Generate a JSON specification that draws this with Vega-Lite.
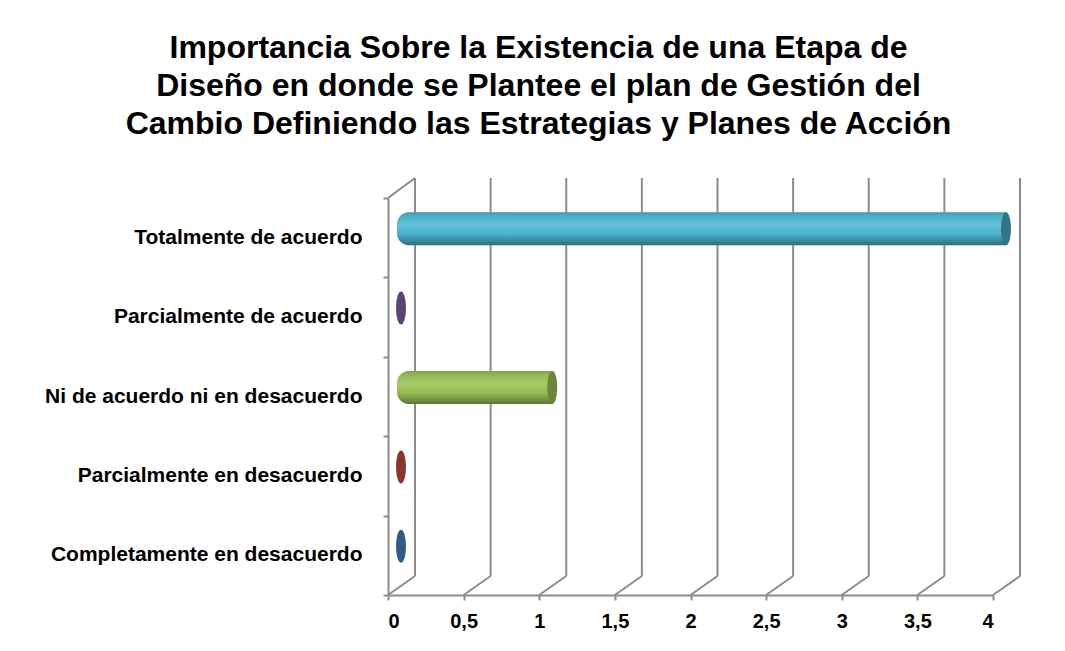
{
  "$schema": "https://vega.github.io/schema/vega-lite/v6.json",
  "autosize": "none",
  "width": 605,
  "height": 397,
  "padding": {"left": 388, "top": 198, "right": 72, "bottom": 56},
  "background": "white",
  "config": {
    "view": {"stroke": null},
    "font": "Arial",
    "axis": {"grid": false}
  },
  "title": {
    "text": [
      "Importancia Sobre la Existencia de una Etapa de",
      "Diseño en donde se Plantee el plan de Gestión del",
      "Cambio Definiendo las Estrategias y Planes de Acción"
    ],
    "frame": "group",
    "anchor": "middle",
    "dx": -152,
    "offset": 4,
    "baseline": "bottom",
    "font": "Arial",
    "fontSize": 32,
    "fontWeight": "bold",
    "lineHeight": 38,
    "color": "#000000"
  },
  "datasets": {
    "respuestas": [
      {"categoria": "Totalmente de acuerdo", "valor": 4},
      {"categoria": "Parcialmente de acuerdo", "valor": 0},
      {"categoria": "Ni de acuerdo ni en desacuerdo", "valor": 1},
      {"categoria": "Parcialmente en desacuerdo", "valor": 0},
      {"categoria": "Completamente en desacuerdo", "valor": 0}
    ],
    "marcas": [
      {"v": 0}, {"v": 0.5}, {"v": 1}, {"v": 1.5}, {"v": 2},
      {"v": 2.5}, {"v": 3}, {"v": 3.5}, {"v": 4}
    ]
  },
  "resolve": {"scale": {"y": "independent"}, "axis": {"y": "independent"}},
  "layer": [
    {
      "data": {"name": "marcas"},
      "layer": [
        {
          "mark": {"type": "rule", "color": "#8c8c8c", "strokeWidth": 2, "xOffset": 27, "x2Offset": 27, "yOffset": -20, "y2Offset": -19},
          "encoding": {
            "x": {"field": "v", "type": "quantitative", "title": null, "scale": {"domain": [0, 4], "nice": false, "zero": false}},
            "y": {
              "datum": 1, "type": "quantitative",
              "scale": {"domain": [0, 1], "nice": false},
              "axis": {
                "orient": "left", "title": null, "values": [0, 0.2, 0.4, 0.6, 0.8, 1],
                "labels": false, "tickSize": 5, "tickWidth": 2, "tickColor": "#8c8c8c",
                "domain": true, "domainColor": "#8c8c8c", "domainWidth": 2, "grid": false
              }
            },
            "y2": {"datum": 0}
          }
        },
        {
          "mark": {"type": "rule", "color": "#8c8c8c", "strokeWidth": 2, "x2Offset": 27, "y2Offset": -19},
          "encoding": {
            "x": {"field": "v", "type": "quantitative", "title": null},
            "x2": {"field": "v"},
            "y": {"datum": 0, "type": "quantitative"},
            "y2": {"datum": 0}
          }
        },
        {
          "transform": [{"filter": "datum.v == 0"}],
          "mark": {"type": "rule", "color": "#8c8c8c", "strokeWidth": 2, "x2Offset": 27, "y2Offset": -20},
          "encoding": {
            "x": {"field": "v", "type": "quantitative", "title": null},
            "x2": {"field": "v"},
            "y": {"datum": 1, "type": "quantitative"},
            "y2": {"datum": 1}
          }
        }
      ]
    },
    {
      "data": {"name": "respuestas"},
      "encoding": {
        "y": {
          "field": "categoria", "type": "nominal",
          "sort": [
            "Totalmente de acuerdo",
            "Parcialmente de acuerdo",
            "Ni de acuerdo ni en desacuerdo",
            "Parcialmente en desacuerdo",
            "Completamente en desacuerdo"
          ],
          "scale": {"paddingInner": 0, "paddingOuter": 0},
          "axis": {
            "orient": "left", "title": null, "ticks": false, "domain": false,
            "labelFont": "Arial", "labelFontSize": 21, "labelFontWeight": "bold",
            "labelColor": "#000000", "labelPadding": 26, "labelLimit": 400
          }
        }
      },
      "layer": [
        {
          "transform": [{"filter": "datum.valor > 0"}],
          "mark": {"type": "bar", "height": 33, "xOffset": 13, "x2Offset": 9, "yOffset": -9, "cornerRadiusTopLeft": 12, "cornerRadiusBottomLeft": 12},
          "encoding": {
            "x": {
              "field": "valor", "type": "quantitative", "title": null,
              "scale": {"domain": [0, 4], "nice": false, "zero": false},
              "axis": {
                "orient": "bottom", "title": null, "values": [0, 0.5, 1, 1.5, 2, 2.5, 3, 3.5, 4],
                "labelExpr": "replace(format(datum.value, '~g'), '.', ',')",
                "labelFont": "Arial", "labelFontSize": 20, "labelFontWeight": "bold", "labelColor": "#000000",
                "labelPadding": 11, "tickSize": 5, "tickWidth": 2, "tickColor": "#8c8c8c",
                "domainColor": "#8c8c8c", "domainWidth": 2, "grid": false
              }
            },
            "x2": {"datum": 0},
            "color": {
              "field": "categoria", "type": "nominal", "legend": null,
              "scale": {
                "domain": ["Totalmente de acuerdo", "Parcialmente de acuerdo", "Ni de acuerdo ni en desacuerdo", "Parcialmente en desacuerdo", "Completamente en desacuerdo"],
                "range": ["#4fbcd8", "#8064a2", "#a0c65c", "#c0504d", "#4f81bd"]
              }
            }
          }
        },
        {
          "transform": [{"filter": "datum.valor > 0"}],
          "mark": {
            "type": "bar", "height": 33, "xOffset": 13, "x2Offset": 9, "yOffset": -9,
            "cornerRadiusTopLeft": 12, "cornerRadiusBottomLeft": 12,
            "fill": {
              "gradient": "linear", "x1": 0, "y1": 0, "x2": 0, "y2": 1,
              "stops": [
                {"offset": 0, "color": "rgba(120,120,120,0.45)"},
                {"offset": 0.05, "color": "rgba(0,0,0,0.12)"},
                {"offset": 0.4, "color": "rgba(255,255,255,0.1)"},
                {"offset": 0.65, "color": "rgba(0,0,0,0.05)"},
                {"offset": 0.9, "color": "rgba(0,0,0,0.3)"},
                {"offset": 1, "color": "rgba(0,0,0,0.42)"}
              ]
            }
          },
          "encoding": {
            "x": {"field": "valor", "type": "quantitative", "title": null},
            "x2": {"datum": 0}
          }
        },
        {
          "mark": {
            "type": "point", "filled": true, "opacity": 1, "size": 1089,
            "shape": "M0,-1 A0.3,1 0 1,1 0,1 A0.3,1 0 1,1 0,-1 Z",
            "xOffset": 13, "yOffset": -9
          },
          "encoding": {
            "x": {"field": "valor", "type": "quantitative", "title": null},
            "fill": {
              "field": "categoria", "type": "nominal", "legend": null,
              "scale": {
                "domain": ["Totalmente de acuerdo", "Parcialmente de acuerdo", "Ni de acuerdo ni en desacuerdo", "Parcialmente en desacuerdo", "Completamente en desacuerdo"],
                "range": ["#2e7587", "#5a4577", "#6c8737", "#8d3431", "#2f5b8b"]
              }
            }
          }
        }
      ]
    }
  ]
}
